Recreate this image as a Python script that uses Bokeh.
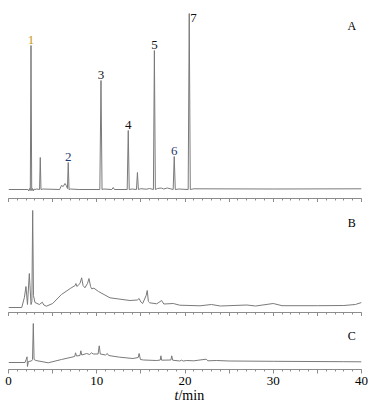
from bokeh.plotting import figure
from bokeh.models import Range1d, FixedTicker, Label, ColumnDataSource
from bokeh.layouts import column
from bokeh.embed import file_html
from bokeh.resources import INLINE
from bokeh.core.properties import value

# ---------------- data ----------------
# Chromatogram A (standards), retention time in min, response in arbitrary units
tA = [0.0, 2.2, 2.3, 2.38, 2.47, 2.55, 2.63, 2.72, 2.8, 2.9, 3.0, 3.2, 3.52, 3.6, 3.68, 3.9,
      5.8, 6.0, 6.2, 6.4, 6.55, 6.68, 6.77, 6.86, 7.0, 8.0, 10.35, 10.48, 10.6, 10.8, 11.7,
      11.87, 12.0, 13.45, 13.57, 13.68, 14.0, 14.5, 14.61, 14.72, 15.0, 15.6, 16.0, 16.42,
      16.53, 16.64, 16.9, 17.3, 17.6, 18.0, 18.66, 18.78, 18.9, 19.3, 20.36, 20.48, 20.6,
      21.0, 30.0, 40.0]
hA = [0, 0, -1.5, 1, -1, 144, -1, 1, -1.5, 0.5, 0, 0.5, 0, 32, 0, 0.5,
      0, 4, 3, 6, 4, 1, 27, 0, 0.5, 0, 0, 109, 0, 0.5, 0,
      2, 0, 0, 59, 0, 0.5, 0, 17, 0, 0.8, 0.3, 1, 0,
      139, 0, 1, 1.5, 0.5, 1.5, 0, 33, 0, 0.5, 0, 176, 0,
      0.7, 0.5, 0.7]

# Chromatogram B (sample)
tB = [0.0, 1.5, 1.8, 1.98, 2.15, 2.36, 2.55, 2.65, 2.74, 2.83, 3.0, 3.5, 3.83, 4.0, 4.3,
      5.0, 6.0, 7.0, 7.55, 7.64, 7.75, 8.1, 8.29, 8.45, 8.66, 8.95, 9.12, 9.3, 9.42, 9.68,
      10.2, 11.5, 12.5, 13.76, 14.6, 14.8, 15.0, 15.2, 15.6, 15.72, 15.85, 16.0, 16.8,
      17.35, 17.6, 18.67, 19.4, 21.7, 23.0, 24.0, 27.0, 28.0, 30.0, 31.0, 35.0, 38.0,
      39.3, 40.0]
hB = [0, 0, 10, 21, 3, 34, 3, 6, 97, 12, 5, 3, 5.3, 2.5, 1.3,
      4, 13, 19, 22, 24, 21, 24, 29.7, 22, 19.7, 24, 29, 21, 18.7, 19.3,
      16, 9.7, 8.5, 7, 7.5, 9, 5.5, 4, 12, 17, 6, 4.7, 3.7,
      7, 3.5, 4, 2.3, 1.7, 3, 1.5, 2.5, 1.5, 4, 1.8, 1.8, 2,
      3, 5]

# Chromatogram C (sample)
tC = [0.0, 1.87, 2.0, 2.1, 2.15, 2.25, 2.6, 2.72, 2.81, 2.9, 3.1, 4.5, 6.0, 7.5, 7.6, 7.7,
      8.1, 8.2, 8.3, 8.85, 9.2, 9.4, 9.6, 10.15, 10.28, 10.4, 11.0, 11.2, 11.35, 12.6,
      14.1, 14.7, 14.8, 14.95, 15.3, 16.8, 17.2, 17.27, 17.35, 18.4, 18.5, 18.6, 19.4,
      19.6, 19.8, 20.2, 21.0, 22.4, 22.6, 23.6, 25.0, 30.0, 38.0, 40.0]
hC = [0, 0, 3, 5.7, -4, 1, 1.5, 3, 39, 3, 2, -0.3, 3, 6, 9.7, 6.5,
      7, 11.7, 7.5, 9, 8, 9.7, 8.5, 8.5, 16.7, 8.5, 7.5, 9, 7, 5.3,
      4, 5, 9, 3, 2.5, 2, 2.5, 6.7, 2.3, 2.5, 6.7, 2.3, 1.5,
      2.3, 1.5, 2, 1.7, 3.3, 1.7, 2.0, 1.5, 1.2, 0.8, 0.7]

# Numbered peaks of A
peak_names = ["1", "2", "3", "4", "5", "6", "7"]
peak_t = [2.55, 6.77, 10.48, 13.57, 16.53, 18.78, 20.48]
peak_h = [144, 27, 109, 59, 139, 33, 176]

# Axis ticks and title
major_ticks = [0, 5, 10, 15, 20, 25, 30, 35, 40]
minor_ticks = list(range(0, 41))
tick_labels = {0: "0", 10: "10", 20: "20", 30: "30", 40: "40"}
axis_var = "t"
axis_unit = "/min"

# ---------------- styles ----------------
SERIF = "Liberation Serif"
TRACE = "#7a7a7a"
AXIS = "#8c8c8c"
label_colors = ["#c9970c", "#1f3b73", "#111111", "#111111", "#111111", "#1f3b73", "#111111"]
FW = 353


def make_fig(fh, y0, y1, top, bottom):
    p = figure(frame_width=FW, frame_height=fh, x_range=Range1d(0, 40), y_range=Range1d(y0, y1),
               output_backend="svg", toolbar_location=None, y_axis_location=None,
               min_border_left=8, min_border_right=10, min_border_top=top, min_border_bottom=bottom)
    p.outline_line_color = None
    p.grid.visible = False
    p.background_fill_color = "white"
    p.border_fill_color = "white"
    ax = p.xaxis[0]
    ax.ticker = FixedTicker(ticks=major_ticks, minor_ticks=minor_ticks)
    ax.axis_line_color = AXIS
    ax.major_tick_line_color = AXIS
    ax.minor_tick_line_color = AXIS
    ax.major_tick_out = 4
    ax.major_tick_in = 0
    ax.minor_tick_out = 2
    ax.minor_tick_in = 0
    return p


def hide_labels(p):
    ax = p.xaxis[0]
    ax.major_label_overrides = {t: "" for t in major_ticks}
    ax.major_label_text_font_size = "0px"
    ax.major_label_standoff = 0


# Panel A
pA = make_fig(190, -9, 181, 8, 0)
hide_labels(pA)
pA.line(tA, hA, line_color=TRACE, line_width=1)
srcL = ColumnDataSource(dict(x=peak_t[:6], y=peak_h[:6], t=peak_names[:6], c=label_colors[:6]))
pA.text(x="x", y="y", text="t", source=srcL, text_color="c", text_align="center",
        text_baseline="bottom", y_offset=-2, text_font=value(SERIF), text_font_size="13px")
src7 = ColumnDataSource(dict(x=peak_t[6:], y=peak_h[6:], t=peak_names[6:], c=label_colors[6:]))
pA.text(x="x", y="y", text="t", source=src7, text_color="c", text_align="left",
        text_baseline="top", x_offset=1, y_offset=0, text_font=value(SERIF), text_font_size="13px")
pA.add_layout(Label(x=38.9, y=164, text="A", text_align="center", text_baseline="middle",
                    text_font=SERIF, text_font_size="12px", text_color="black"))

# Panel B
pB = make_fig(110, -5, 105, 0, 0)
hide_labels(pB)
pB.line(tB, hB, line_color=TRACE, line_width=1)
pB.add_layout(Label(x=38.9, y=85, text="B", text_align="center", text_baseline="middle",
                    text_font=SERIF, text_font_size="12px", text_color="black"))

# Panel C
pC = make_fig(53, -7, 46, 0, 0)
pC.line(tC, hC, line_color=TRACE, line_width=1)
axC = pC.xaxis[0]
axC.major_label_overrides = {t: tick_labels.get(t, "") for t in major_ticks}
axC.major_label_text_font = SERIF
axC.major_label_text_font_size = "13px"
axC.major_label_text_color = "black"
axC.major_label_standoff = 3
pC.add_layout(Label(x=38.9, y=27, text="C", text_align="center", text_baseline="middle",
                    text_font=SERIF, text_font_size="12px", text_color="black"))

# Axis title strip (italic variable + upright unit)
pD = figure(frame_width=FW, frame_height=16, x_range=Range1d(0, 40), y_range=Range1d(0, 1),
            output_backend="svg", toolbar_location=None, x_axis_location=None, y_axis_location=None,
            min_border_left=8, min_border_right=10, min_border_top=0, min_border_bottom=0)
pD.outline_line_color = None
pD.grid.visible = False
pD.text(x=[19.26], y=[0.5], text=[axis_var], text_align="right", text_baseline="middle",
        text_font=value(SERIF), text_font_style="italic", text_font_size="14px", text_color="black")
pD.text(x=[19.26], y=[0.5], text=[axis_unit], text_align="left", text_baseline="middle",
        text_font=value(SERIF), text_font_size="14px", text_color="black")

layout = column(pA, pB, pC, pD, spacing=0)

with open("out.html", "w") as f:
    f.write(file_html(layout, INLINE))
